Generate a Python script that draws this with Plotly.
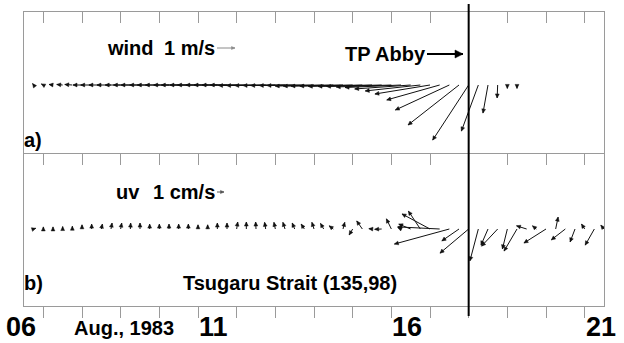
import math
import plotly.graph_objects as go

# ---------------- data ----------------
# 6-hourly samples, days of August 1983
T_START = 6.75
T_STEP = 0.25

# wind vectors (m/s), panel a)
wind_u = [-0.06, -0.11, -0.22, -0.33, -0.42, -0.50, -0.61, -0.69, -0.78, -0.86,
          -0.94, -1.06, -1.11, -1.22, -1.31, -1.39, -1.50, -1.56, -1.67, -1.75,
          -1.83, -1.92, -2.00, -2.08, -2.17, -2.25, -2.33, -2.44, -2.50, -2.61,
          -2.69, -2.78, -2.89, -2.94, -3.00, -3.00, -3.06, -3.06, -3.11, -3.11,
          -3.06, -3.06, -2.94, -3.00, -2.83, -2.00, -0.94, -0.28, -0.03, 0.00,
          0.00]
wind_v = [0.08, 0.06, 0.03, 0.03, 0.03, 0.00, 0.00, 0.00, 0.00, 0.00,
          0.00, 0.00, 0.00, 0.00, 0.00, 0.00, 0.00, 0.00, 0.00, 0.00,
          0.00, 0.00, 0.00, -0.03, -0.03, -0.03, -0.03, -0.03, -0.03, -0.03,
          -0.06, -0.06, -0.06, -0.06, -0.08, -0.08, -0.08, -0.11, -0.14, -0.22,
          -0.33, -0.50, -0.83, -1.39, -2.22, -3.06, -2.56, -1.56, -0.72, -0.19,
          -0.19]

# current vectors (cm/s), panel b) Tsugaru Strait (135,98)
uv_u = [0.30, 0.00, 0.00, 0.00, 0.00, 0.00, 0.00, 0.15, 0.15, 0.15,
        0.05, 0.00, 0.00, 0.00, 0.00, 0.00, 0.00, 0.00, 0.00, 0.00,
        0.00, 0.15, 0.00, -0.05, -0.15, -0.20, -0.30, -0.35, -0.45, -0.30,
        -0.45, -0.60, 0.25, -0.50, -0.80, -0.45, -1.00, -0.70, -0.45, -1.70,
        -1.70, -4.00, -6.00, -7.85, -2.45, -4.10, -1.20, -1.00, -2.30, -0.70,
        -1.85, -1.45, -0.55, -3.15, 0.35, -2.00, -0.70, -0.45, -1.30, -0.45]
uv_v = [0.10, 0.30, 0.30, 0.35, 0.40, 0.60, 0.70, 0.70, 0.85, 0.85,
        0.85, 0.85, 0.70, 0.70, 0.70, 0.70, 0.70, 0.60, 0.60, 0.85,
        0.85, 1.00, 1.00, 1.00, 0.95, 0.95, 0.95, 0.85, 0.70, 0.95,
        0.80, 0.45, 0.95, -0.85, 1.15, 0.05, -0.05, 1.45, 0.20, 0.70,
        2.55, 2.15, 0.30, -2.15, -1.70, -3.45, -4.55, -2.30, -2.45, -2.85,
        -3.15, 0.45, 0.45, -2.00, 1.70, -1.55, -1.85, 0.70, -2.30, 0.55]

tick_days = list(range(7, 22))
date_labels = ["06", "11", "16", "21"]
date_label_days = [6, 11, 16, 21]
abby_day = 18.0
wind_ref_speed = 1.0   # m/s scale arrow
uv_ref_speed = 1.0     # cm/s scale arrow

wind_times = [T_START + T_STEP * i for i in range(len(wind_u))]
uv_times = [T_START + T_STEP * i for i in range(len(uv_u))]

# ---------------- layout geometry ----------------
W, H = 624, 343
ML, MR, MT, MB = 24, 20, 12, 37
PW = W - ML - MR
PH = H - MT - MB
X_RANGE = [6.5, 21.5]
PX_PER_DAY = PW / (X_RANGE[1] - X_RANGE[0])
WIND_PX = 18.0   # pixels per m/s
UV_PX = 7.0      # pixels per cm/s
DIV_Y = 154
WIND_BASE = 85
UV_BASE = 229
BOTTOM_Y = H - MB
dom_split = (BOTTOM_Y - DIV_Y) / PH
wind_range = [-(DIV_Y - WIND_BASE) / WIND_PX, (WIND_BASE - MT) / WIND_PX]
uv_range = [-(BOTTOM_Y - UV_BASE) / UV_PX, (UV_BASE - DIV_Y) / UV_PX]

FRAME = "#9a9a9a"
INK = "#111111"
FONT = "Liberation Sans, Arial, sans-serif"


def pxx(px):
    return (px - ML) / PW


def pxy(py):
    return (BOTTOM_Y - py) / PH


def px_day(px):
    return X_RANGE[0] + (px - ML) / PX_PER_DAY


def sticks(times, us, vs, pxu, base, xa, ya, color=INK, width=1,
           head_len=4.0, head_hw=1.9):
    """Stick (vector) plot: stems as one line trace, heads as filled triangles."""
    lx, ly, hx, hy = [], [], [], []
    for t, u, v in zip(times, us, vs):
        dxp, dyp = u * pxu, v * pxu          # vector in screen pixels (y up)
        tipx, tipy = t + dxp / PX_PER_DAY, base + v
        lx += [t, tipx, None]
        ly += [base, tipy, None]
        n = math.hypot(dxp, dyp)
        if n == 0:
            continue
        ux, uy = dxp / n, dyp / n
        nx, ny = -uy, ux
        pts = [(dxp, dyp),
               (dxp - head_len * ux + head_hw * nx, dyp - head_len * uy + head_hw * ny),
               (dxp - head_len * ux - head_hw * nx, dyp - head_len * uy - head_hw * ny),
               (dxp, dyp)]
        for px_, py_ in pts:
            hx.append(t + px_ / PX_PER_DAY)
            hy.append(base + py_ / pxu)
        hx.append(None)
        hy.append(None)
    stems = go.Scatter(x=lx, y=ly, mode="lines", xaxis=xa, yaxis=ya,
                       line=dict(color=color, width=width), hoverinfo="skip",
                       showlegend=False)
    heads = go.Scatter(x=hx, y=hy, mode="lines", fill="toself", fillcolor=color,
                       xaxis=xa, yaxis=ya, line=dict(color=color, width=0.5),
                       hoverinfo="skip", showlegend=False)
    return [stems, heads]


def label(text, px, py, size=20, anchor="left"):
    return dict(text="<b>%s</b>" % text, x=pxx(px), y=pxy(py),
                xref="paper", yref="paper", xanchor=anchor, yanchor="middle",
                showarrow=False, font=dict(family=FONT, size=size, color="black"))


fig = go.Figure()
fig.add_trace(go.Scatter(x=[], y=[], xaxis="x3", yaxis="y2", showlegend=False))

for tr in sticks(wind_times, wind_u, wind_v, WIND_PX, 0.0, "x", "y"):
    fig.add_trace(tr)
for tr in sticks(uv_times, uv_u, uv_v, UV_PX, 0.0, "x2", "y2"):
    fig.add_trace(tr)

# scale arrows in the legends
for tr in sticks([px_day(217)], [wind_ref_speed], [0.0], WIND_PX,
                 (WIND_BASE - 48) / WIND_PX, "x", "y", color="#8a8a8a",
                 head_len=3.5, head_hw=1.5):
    fig.add_trace(tr)
for tr in sticks([px_day(217)], [uv_ref_speed], [0.0], UV_PX,
                 (UV_BASE - 192) / UV_PX, "x2", "y2", color="#555555",
                 head_len=3.5, head_hw=1.6):
    fig.add_trace(tr)
# TP Abby pointer (36 px long)
for tr in sticks([px_day(427)], [36 / WIND_PX], [0.0], WIND_PX,
                 (WIND_BASE - 54) / WIND_PX, "x", "y", color="black", width=2,
                 head_len=8.0, head_hw=4.0):
    fig.add_trace(tr)

ax_common = dict(range=X_RANGE, tickvals=tick_days, showticklabels=False,
                 ticklen=11, tickwidth=1, tickcolor=FRAME, showline=True,
                 linecolor=FRAME, linewidth=1, showgrid=False, zeroline=False)
ay_common = dict(showticklabels=False, ticks="", showline=True, mirror=True,
                 linecolor=FRAME, linewidth=1, showgrid=False, zeroline=False)

annotations = [
    label("wind", 105, 48),
    label("1 m/s", 162, 48),
    label("TP Abby", 343, 54),
    label("a)", 22, 140),
    label("uv", 114, 192),
    label("1 cm/s", 151, 192),
    label("b)", 22, 283),
    label("Tsugaru Strait (135,98)", 290, 283, anchor="center"),
    label("Aug., 1983", 72, 328),
]
for d, txt in zip(date_label_days, date_labels):
    px = ML + (d - X_RANGE[0]) * PX_PER_DAY
    annotations.append(label(txt, px - 1, 327, size=27))

fig.update_layout(
    width=W, height=H,
    margin=dict(l=ML, r=MR, t=MT, b=MB),
    paper_bgcolor="white", plot_bgcolor="white",
    showlegend=False,
    xaxis=dict(anchor="y", side="top", ticks="inside", **ax_common),
    yaxis=dict(domain=[dom_split, 1], range=wind_range, **ay_common),
    xaxis2=dict(anchor="y2", side="bottom", ticks="outside", **ax_common),
    xaxis3=dict(anchor="y2", overlaying="x2", side="top", ticks="inside", **ax_common),
    yaxis2=dict(domain=[0, dom_split], range=uv_range, **ay_common),
    annotations=annotations,
    shapes=[dict(type="line", xref="x", yref="paper", x0=abby_day, x1=abby_day,
                 y0=pxy(316), y1=pxy(4), line=dict(color="black", width=2))],
)

fig.write_html("out.html", config={"displayModeBar": False},
               post_script="document.body.style.margin='0px';")
